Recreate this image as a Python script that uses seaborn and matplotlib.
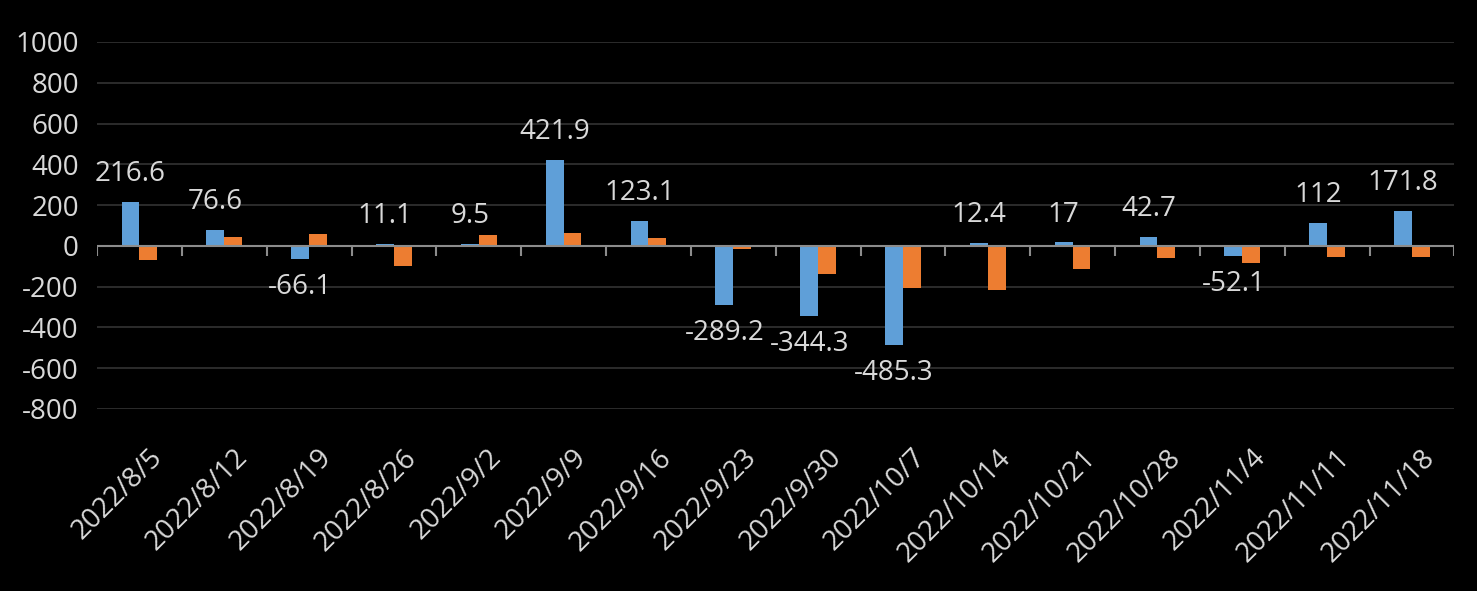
import matplotlib
matplotlib.use("Agg")
import matplotlib.pyplot as plt
import matplotlib.transforms as mtransforms
import seaborn as sns
import pandas as pd
import numpy as np

dates = ["2022/8/5", "2022/8/12", "2022/8/19", "2022/8/26", "2022/9/2", "2022/9/9",
         "2022/9/16", "2022/9/23", "2022/9/30", "2022/10/7", "2022/10/14", "2022/10/21",
         "2022/10/28", "2022/11/4", "2022/11/11", "2022/11/18"]
series_a = [216.6, 76.6, -66.1, 11.1, 9.5, 421.9, 123.1, -289.2, -344.3, -485.3,
            12.4, 17, 42.7, -52.1, 112, 171.8]
series_b = [-67, 44, 59, -98, 54, 64, 39, -15, -137, -206, -216, -113, -59, -83, -54, -54]
series_names = ["A", "B"]
yticks = [-800, -600, -400, -200, 0, 200, 400, 600, 800, 1000]

df = pd.DataFrame({
    "date": dates * 2,
    "value": series_a + series_b,
    "series": [series_names[0]] * len(dates) + [series_names[1]] * len(dates),
})

sns.set_theme(style="dark")
plt.rcParams["font.family"] = ["Open Sans", "DejaVu Sans"]
txt = "#D9D9D9"
fs = 20

fig = plt.figure(figsize=(14.77, 5.91), dpi=100, facecolor="black")
ax = fig.add_axes([0.0657, 0.308, 0.919, 0.621])
ax.set_facecolor("black")

sns.barplot(data=df, x="date", y="value", hue="series", order=dates,
            palette=["#5F9FD8", "#ED7D31"], width=0.42, ax=ax, legend=False,
            saturation=1, errorbar=None, linewidth=0)

ax.set_ylim(-800, 1000)
ax.set_xlim(-0.5, len(dates) - 0.5)
ax.set_yticks(yticks)
ax.set_yticklabels([str(v) for v in yticks], color=txt, fontsize=fs)
ax.yaxis.grid(True, color="#333333", linewidth=1.2)
ax.xaxis.grid(False)
ax.set_axisbelow(True)
for s in ax.spines.values():
    s.set_visible(False)
ax.tick_params(axis="y", length=0, pad=13)
ax.tick_params(axis="x", length=0, pad=25)
ax.set_xlabel("")
ax.set_ylabel("")
ax.set_xticks(range(len(dates)))
ax.set_xticklabels(dates, rotation=45, ha="right", rotation_mode="anchor",
                   color=txt, fontsize=fs)
shift = mtransforms.ScaledTranslation(9 / 100, 0, fig.dpi_scale_trans)
for lab in ax.get_xticklabels():
    lab.set_transform(lab.get_transform() + shift)

# zero line and category tick marks
ax.axhline(0, color="#8C8C8C", linewidth=1.5, zorder=1)
ax.vlines(np.arange(len(dates) + 1) - 0.5, -50, 0, color="#8C8C8C", linewidth=1.5)

ax.bar_label(ax.containers[0], labels=[f"{v:g}" for v in series_a],
             color=txt, fontsize=fs, padding=10)

fig.savefig("out.png", dpi=100, facecolor="black")
